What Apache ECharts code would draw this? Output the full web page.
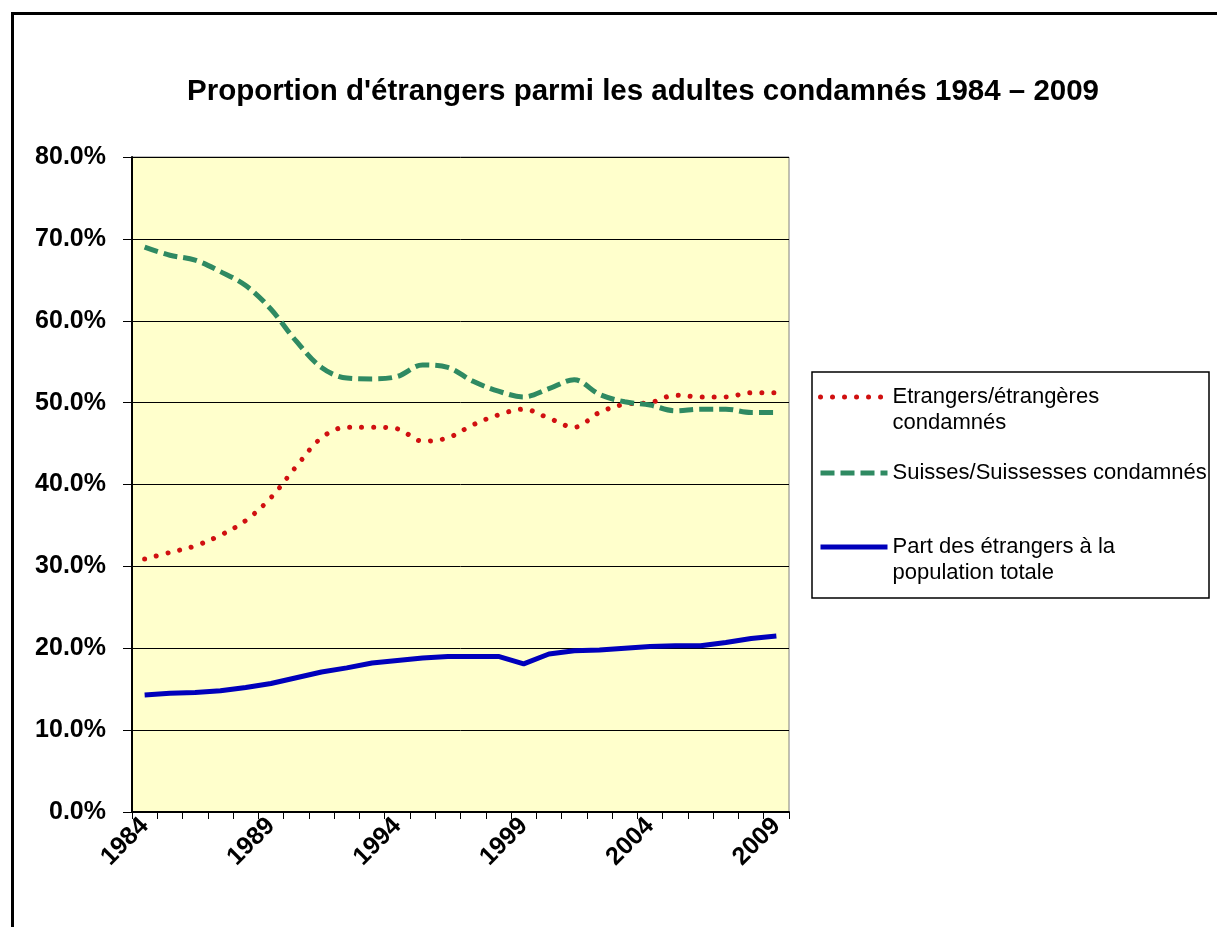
<!DOCTYPE html>
<html>
<head>
<meta charset="utf-8">
<script src="https://cdn.jsdelivr.net/npm/echarts@6/dist/echarts.min.js"></script>
<style>
html,body{margin:0;padding:0;background:#fff;}
#chart{width:1217px;height:927px;}
</style>
</head>
<body>
<div id="chart"></div>
<script>
const years = ['1984','1985','1986','1987','1988','1989','1990','1991','1992','1993','1994','1995','1996','1997','1998','1999','2000','2001','2002','2003','2004','2005','2006','2007','2008','2009'];
const etrangers = [30.9, 31.7, 32.5, 33.8, 35.6, 38.4, 42.2, 45.7, 47.0, 47.0, 46.8, 45.3, 45.7, 47.3, 48.5, 49.2, 48.1, 47.0, 48.8, 49.8, 50.0, 50.9, 50.7, 50.7, 51.2, 51.2];
const suisses = [69.0, 68.0, 67.4, 66.0, 64.3, 61.4, 57.5, 54.3, 53.0, 52.9, 53.2, 54.6, 54.3, 52.6, 51.4, 50.7, 51.7, 52.8, 51.0, 50.1, 49.7, 49.0, 49.2, 49.2, 48.8, 48.8];
const partPopulation = [14.3, 14.5, 14.6, 14.8, 15.2, 15.7, 16.4, 17.1, 17.6, 18.2, 18.5, 18.8, 19.0, 19.0, 19.0, 18.1, 19.3, 19.7, 19.8, 20.0, 20.2, 20.3, 20.3, 20.7, 21.2, 21.5];
const seriesNames = ['Etrangers/étrangères condamnés', 'Suisses/Suissesses condamnés', 'Part des étrangers à la population totale'];
const legendLabels = ['Etrangers/étrangères\ncondamnés', 'Suisses/Suissesses condamnés', 'Part des étrangers à la\npopulation totale'];
const titleText = "Proportion d'étrangers parmi les adultes condamnés 1984 – 2009";

const FONT = "'Liberation Sans', Arial, sans-serif";
const RED = '#D01010', GREEN = '#2F8A62', BLUE = '#0000BB';
const lineStyles = [
  {color: RED, width: 5, type: [0.01, 12], cap: 'round'},
  {color: GREEN, width: 5, type: [14, 6]},
  {color: BLUE, width: 5, type: 'solid'}
];

const chart = echarts.init(document.getElementById('chart'), null, {renderer: 'canvas'});

function legendFor(i, top, twoLine) {
  return {
    data: [seriesNames[i]],
    orient: 'vertical',
    left: 818,
    top: top,
    padding: 0,
    itemWidth: 67,
    itemHeight: 10,
    itemGap: 0,
    selectedMode: false,
    formatter: function () { return twoLine ? ' \n' + legendLabels[i] : legendLabels[i]; },
    itemStyle: {opacity: 0},
    lineStyle: Object.assign({}, lineStyles[i], {opacity: 1}),
    textStyle: {fontFamily: FONT, fontSize: 22, color: '#000', lineHeight: 26}
  };
}

const option = {
  animation: false,
  backgroundColor: '#ffffff',
  title: {
    text: titleText,
    left: 187,
    top: 77,
    padding: 0,
    textStyle: {fontFamily: FONT, fontSize: 29.5, fontWeight: 'bold', color: '#000'}
  },
  legend: [
    legendFor(0, 358, true),
    legendFor(1, 460, false),
    legendFor(2, 508, true)
  ],
  grid: {
    left: 132, right: 1217 - 789, top: 157, bottom: 927 - 812,
    show: true, backgroundColor: '#FFFFCC', borderColor: '#808080', borderWidth: 1,
    containLabel: false
  },
  xAxis: {
    type: 'category',
    data: years,
    boundaryGap: true,
    axisLine: {lineStyle: {color: '#000', width: 2}},
    axisTick: {show: true, interval: 0, length: 7, lineStyle: {color: '#000', width: 1}},
    axisLabel: {
      interval: 4, rotate: 45, margin: 10,
      fontFamily: FONT, fontSize: 25, fontWeight: 'bold', color: '#000'
    },
    splitLine: {show: false}
  },
  yAxis: {
    type: 'value',
    min: 0, max: 80, interval: 10,
    axisLine: {show: true, lineStyle: {color: '#000', width: 2}},
    axisTick: {show: true, length: 9, lineStyle: {color: '#000', width: 1}},
    axisLabel: {
      margin: 26,
      fontFamily: FONT, fontSize: 25, fontWeight: 'bold', color: '#000',
      formatter: function (v) { return v.toFixed(1) + '%'; }
    },
    splitLine: {show: true, lineStyle: {color: '#000', width: 1}}
  },
  series: [
    {
      name: seriesNames[0], type: 'line', data: etrangers,
      symbol: 'none', smooth: 0.35,
      lineStyle: lineStyles[0],
      itemStyle: {color: RED}
    },
    {
      name: seriesNames[1], type: 'line', data: suisses,
      symbol: 'none', smooth: 0.35,
      lineStyle: lineStyles[1],
      itemStyle: {color: GREEN}
    },
    {
      name: seriesNames[2], type: 'line', data: partPopulation,
      symbol: 'none', smooth: false,
      lineStyle: lineStyles[2],
      itemStyle: {color: BLUE}
    }
  ],
  graphic: [
    {type: 'rect', silent: true, z: -1,
     shape: {x: 12.5, y: 13.5, width: 1300, height: 1000},
     style: {fill: null, stroke: '#000', lineWidth: 3}},
    {type: 'rect', silent: true,
     shape: {x: 812, y: 372, width: 397, height: 226},
     style: {fill: null, stroke: '#000', lineWidth: 1.5}}
  ]
};
chart.setOption(option);
</script>
</body>
</html>
